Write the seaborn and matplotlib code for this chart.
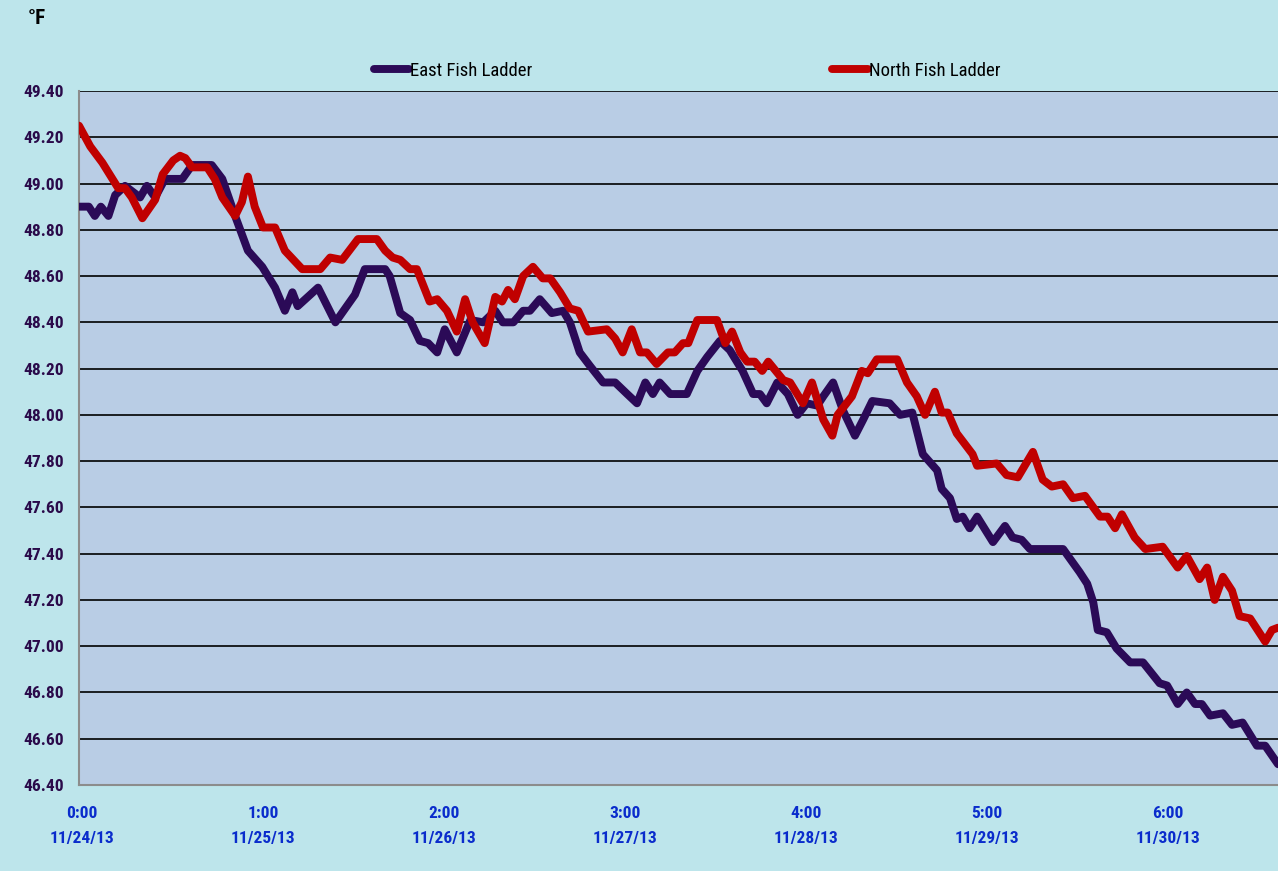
import numpy as np
import pandas as pd
import matplotlib
matplotlib.use("Agg")
import matplotlib.pyplot as plt
import matplotlib.transforms as mtransforms
import seaborn as sns

# ── DATOS (horas desde 11/24/13 0:00, °F) ─────────────────
east_horas = [0, 1.3, 2.1, 2.9, 3.9, 4.8, 6.1, 8.1, 9.0, 10.1, 11.4, 13.7, 15.0,
              17.6, 19.0, 20.7, 22.4, 24.3, 26.0, 27.3, 28.3, 29.0, 31.7, 34.0,
              36.6, 37.9, 40.6, 41.2, 42.6, 43.9, 45.2, 46.3, 47.5, 48.5, 50.1,
              51.9, 53.6, 55.2, 56.2, 57.6, 58.9, 59.8, 61.1, 62.7, 64.2, 65.1,
              66.4, 67.8, 69.5, 71.1, 72.7, 74.0, 75.1, 76.1, 77.0, 78.4, 80.6,
              82.0, 83.3, 85.0, 86.3, 88.0, 89.4, 90.3, 91.2, 92.6, 94.0, 95.3,
              96.5, 97.9, 98.7, 100.0, 101.3, 102.9, 104.0, 105.2, 107.5, 108.9,
              110.5, 111.9, 113.8, 114.4, 115.5, 116.4, 117.2, 118.1, 119.1,
              121.2, 122.8, 123.8, 125.0, 126.1, 130.5, 132.7, 133.7, 134.5,
              135.1, 136.3, 137.6, 139.4, 141.1, 143.3, 144.3, 145.7, 146.9,
              148.0, 148.9, 150.0, 151.7, 152.9, 154.3, 156.2, 157.3, 159.0]
east_temp = [48.90, 48.90, 48.86, 48.90, 48.86, 48.95, 48.99, 48.94, 48.99, 48.94,
             49.02, 49.02, 49.08, 49.08, 49.02, 48.86, 48.71, 48.64, 48.55, 48.45,
             48.53, 48.47, 48.55, 48.40, 48.52, 48.63, 48.63, 48.60, 48.44, 48.41,
             48.32, 48.31, 48.27, 48.37, 48.27, 48.41, 48.40, 48.45, 48.40, 48.40,
             48.45, 48.45, 48.50, 48.44, 48.45, 48.40, 48.27, 48.21, 48.14, 48.14,
             48.09, 48.05, 48.14, 48.09, 48.14, 48.09, 48.09, 48.19, 48.25, 48.32,
             48.28, 48.19, 48.09, 48.09, 48.05, 48.14, 48.09, 48.00, 48.05, 48.04,
             48.08, 48.14, 48.02, 47.91, 47.98, 48.06, 48.05, 48.00, 48.01, 47.83,
             47.76, 47.68, 47.64, 47.55, 47.56, 47.51, 47.56, 47.45, 47.52, 47.47,
             47.46, 47.42, 47.42, 47.32, 47.27, 47.19, 47.07, 47.06, 46.99, 46.93,
             46.93, 46.84, 46.83, 46.75, 46.80, 46.75, 46.75, 46.70, 46.71, 46.66,
             46.67, 46.57, 46.57, 46.49]

north_horas = [0, 1.5, 3.1, 5.2, 6.1, 7.0, 8.4, 10.1, 11.1, 12.5, 13.4, 14.1, 15.0,
               17.0, 18.0, 19.0, 20.7, 21.6, 22.4, 23.3, 24.4, 26.0, 27.3, 29.6,
               32.0, 33.3, 34.9, 37.0, 39.5, 40.6, 41.6, 42.6, 43.9, 44.8, 46.5,
               47.5, 48.8, 50.1, 51.2, 52.2, 53.8, 55.2, 56.1, 56.9, 57.8, 58.9,
               60.2, 61.5, 62.5, 63.8, 65.1, 66.2, 67.5, 70.0, 71.1, 72.1, 73.3,
               74.4, 75.3, 76.6, 78.1, 79.0, 80.1, 80.8, 82.0, 84.6, 85.7, 86.6,
               87.7, 88.6, 89.6, 90.6, 91.4, 93.4, 94.3, 96.0, 97.2, 98.7, 99.9,
               100.6, 102.5, 103.8, 104.6, 105.8, 108.5, 109.8, 111.1, 112.2,
               113.5, 114.4, 115.2, 116.4, 118.5, 119.1, 121.7, 123.0, 124.5,
               126.5, 127.8, 129.0, 130.5, 131.8, 133.4, 135.4, 136.4, 137.4,
               138.3, 140.0, 141.4, 143.7, 145.7, 146.9, 148.6, 149.6, 150.6,
               151.7, 152.9, 153.9, 155.3, 156.3, 157.3, 158.2, 159.0]
north_temp = [49.25, 49.16, 49.09, 48.98, 48.98, 48.94, 48.85, 48.93, 49.04, 49.10,
              49.12, 49.11, 49.07, 49.07, 49.02, 48.94, 48.86, 48.92, 49.03, 48.90,
              48.81, 48.81, 48.71, 48.63, 48.63, 48.68, 48.67, 48.76, 48.76, 48.71,
              48.68, 48.67, 48.63, 48.63, 48.49, 48.50, 48.45, 48.36, 48.50, 48.40,
              48.31, 48.51, 48.49, 48.54, 48.50, 48.60, 48.64, 48.59, 48.59, 48.53,
              48.46, 48.45, 48.36, 48.37, 48.33, 48.27, 48.37, 48.27, 48.27, 48.22,
              48.27, 48.27, 48.31, 48.31, 48.41, 48.41, 48.31, 48.36, 48.27, 48.23,
              48.23, 48.19, 48.23, 48.15, 48.14, 48.05, 48.14, 47.98, 47.91, 48.00,
              48.08, 48.19, 48.18, 48.24, 48.24, 48.14, 48.08, 48.00, 48.10, 48.01,
              48.01, 47.92, 47.83, 47.78, 47.79, 47.74, 47.73, 47.84, 47.72, 47.69,
              47.70, 47.64, 47.65, 47.56, 47.56, 47.51, 47.57, 47.47, 47.42, 47.43,
              47.34, 47.39, 47.29, 47.34, 47.20, 47.30, 47.24, 47.13, 47.12, 47.07,
              47.02, 47.07, 47.08]

series = ["East Fish Ladder", "North Fish Ladder"]
colores = {"East Fish Ladder": "#2b0a57", "North Fish Ladder": "#c00000"}

tick_horas = [0, 24, 48, 72, 96, 120, 144]
tick_etiquetas = ["0:00\n11/24/13", "1:00\n11/25/13", "2:00\n11/26/13",
                  "3:00\n11/27/13", "4:00\n11/28/13", "5:00\n11/29/13",
                  "6:00\n11/30/13"]
y_ticks = [46.4, 46.6, 46.8, 47.0, 47.2, 47.4, 47.6, 47.8, 48.0, 48.2,
           48.4, 48.6, 48.8, 49.0, 49.2, 49.4]

df = pd.concat([
    pd.DataFrame({"horas": east_horas, "temp": east_temp, "serie": series[0]}),
    pd.DataFrame({"horas": north_horas, "temp": north_temp, "serie": series[1]}),
])

# ── ESTILO ─────────────────────────────────────────────────
sns.set_style("white")
plt.rcParams["font.family"] = ["Roboto Condensed", "DejaVu Sans"]
plt.rcParams["font.stretch"] = "condensed"

fig = plt.figure(figsize=(12.78, 8.71), dpi=100)
fig.patch.set_facecolor("#bde5eb")
ax = fig.add_axes([79 / 1278, 1 - 785 / 871, 1 - 79 / 1278, (785 - 91) / 871])
ax.set_facecolor("#b9cde5")

sns.lineplot(data=df, x="horas", y="temp", hue="serie", palette=colores,
             hue_order=series, estimator=None, sort=True, linewidth=5.7,
             solid_capstyle="round", solid_joinstyle="round", ax=ax, zorder=3)

ax.set_xlim(0, 159)
ax.set_ylim(46.4, 49.4)
ax.set_yticks(y_ticks)
ax.set_yticklabels([f"{v:.2f}" for v in y_ticks], fontsize=12.5,
                   fontweight="bold", color="#2a0a4a")
ax.set_xticks(tick_horas)
ax.set_xticklabels(tick_etiquetas, fontsize=12.5, fontweight="bold",
                   color="#0a2ccc", linespacing=1.85)
ax.tick_params(axis="y", length=0, pad=11)
ax.tick_params(axis="x", length=0, pad=15)
ax.yaxis.grid(True, color="black", linewidth=1.2)
ax.xaxis.grid(False)
ax.set_xlabel("")
ax.set_ylabel("")
for lado in ["top", "right"]:
    ax.spines[lado].set_visible(False)
for lado in ["left", "bottom"]:
    ax.spines[lado].set_color("#8c8c8c")
    ax.spines[lado].set_linewidth(1.5)

# etiquetas del eje x un poco a la derecha de la marca, como en el original
desplaza = mtransforms.ScaledTranslation(3 / 100, 0, fig.dpi_scale_trans)
for lab in ax.get_xticklabels():
    lab.set_transform(lab.get_transform() + desplaza)

fig.text(28 / 1278, 1 - 19 / 871, "°F", fontsize=15, fontweight="bold",
         color="black", va="center", ha="left")

ax.get_legend().remove()
handles, labels = ax.get_legend_handles_labels()
for h in handles:
    h.set_solid_capstyle("round")
fig.legend(handles, labels, loc="center", bbox_to_anchor=(687 / 1278, 1 - 71 / 871),
           ncol=2, frameon=False, fontsize=13.5, handlelength=1.9,
           handletextpad=0.05, columnspacing=16.0, labelcolor="black")

plt.savefig("out.png", dpi=100, facecolor=fig.get_facecolor())
